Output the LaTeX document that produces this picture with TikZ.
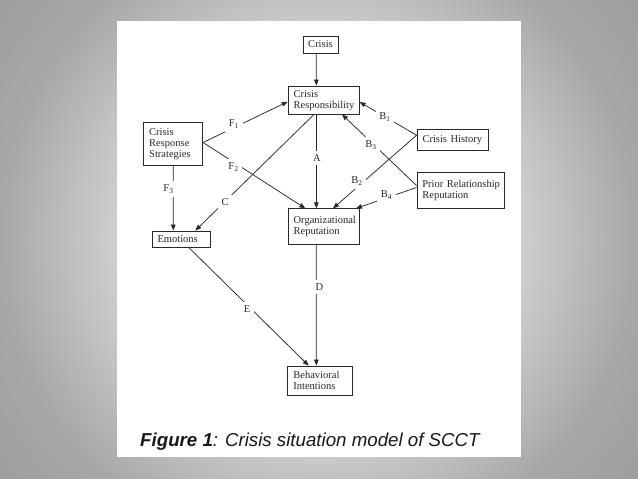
\documentclass[tikz,border=0pt]{standalone}
\usepackage{fontspec}
\setmainfont{Liberation Serif}
\newfontfamily\capfont{Liberation Sans}
\usetikzlibrary{arrows.meta}
\definecolor{ink}{RGB}{40,40,40}
\tikzset{
  box/.style={draw=ink, line width=0.8pt, inner xsep=5.5pt, inner ysep=2pt, align=left,
    text=ink, font=\fontsize{10.5}{11}\selectfont},
  arr/.style={draw=ink, line width=0.75pt, -{Triangle[length=6pt,width=4.6pt]}},
  lbl/.style={fill=white, inner sep=3.5pt, text=ink, font=\fontsize{10.5}{11}\selectfont},
}
\begin{document}
\begin{tikzpicture}[x=1pt,y=-1pt]
\useasboundingbox (0,0) rectangle (638,479);
\begin{scope}
  \clip (0,0) rectangle (638,479);
  \foreach \r in {420,417,...,198} {
    \pgfmathsetmacro\g{(\r>319 ? (168-(\r-319)*10/79) : (207-(\r-202)*39/117))/255}
    \definecolor{tmpg}{gray}{\g}
    \fill[tmpg] (319,239.5) circle (\r pt);
  }
\end{scope}
\fill[white] (117,21) rectangle (521,457);

% boxes
\node[box, align=center, inner xsep=3pt, text width=29pt, minimum height=17pt] (crisis) at (320.5,44.5) {Crisis};
\node[box, text width=60pt, minimum height=28pt] (resp) at (323.65,100) {\rule{0pt}{9pt}Crisis\\\mbox{Responsibility}};
\node[box, text width=48pt, minimum height=43.5pt] (crs) at (173.2,144) {Crisis\\Response\\Strategies};
\node[box, text width=60pt, minimum height=21pt] (hist) at (452.5,140.2) {\mbox{Crisis History}};
\node[box, text width=76pt, minimum height=36pt] (prior) at (460.4,190) {\mbox{Prior Relationship}\\Reputation};
\node[box, text width=60pt, minimum height=36pt] (org) at (323.65,226.8) {\mbox{Organizational}\\Reputation};
\node[box, text width=47pt, minimum height=16pt] (emo) at (181,239) {Emotions};
\node[box, text width=54pt, minimum height=29pt] (beh) at (320.35,380.5) {Behavioral\\Intentions};

% connectors
\draw[arr] ([xshift=-4.2pt]crisis.south) -- ([xshift=-7.3pt]resp.north);
\draw[arr] ([xshift=-7.3pt]resp.south) -- ([xshift=-7.3pt]org.north)
  node[lbl] at (317,158) {A};
\draw[arr] ([xshift=-7.3pt]org.south) -- ([xshift=-4pt]beh.north)
  node[lbl] at (319.5,287) {D};
\draw[arr] ([yshift=1.5pt]crs.east) -- ([yshift=-1.7pt]resp.west)
  node[lbl] at (234,124) {F\textsubscript{1}};
\draw[arr] ([yshift=1.5pt]crs.east) -- ([xshift=-18.35pt]org.north)
  node[lbl] at (233.5,167) {F\textsubscript{2}};
\draw[arr] (crs.south) -- ([xshift=-7.7pt]emo.north)
  node[lbl] at (168.5,189) {F\textsubscript{3}};
\draw[arr] ([xshift=-9.6pt]resp.south) -- ([xshift=14.3pt]emo.north)
  node[lbl] at (225,202) {C};
\draw[arr] ([yshift=5pt]hist.west) -- ([yshift=-2pt]resp.east)
  node[lbl] at (385,117) {B\textsubscript{1}};
\draw[arr] ([yshift=5pt]hist.west) -- ([xshift=9.35pt]org.north)
  node[lbl] at (357,181) {B\textsubscript{2}};
\draw[arr] ([yshift=4.5pt]prior.west) -- ([xshift=18.35pt]resp.south)
  node[lbl] at (371,145) {B\textsubscript{3}};
\draw[arr] ([yshift=2.5pt]prior.west) -- ([xshift=32.35pt]org.north)
  node[lbl] at (386.5,195) {B\textsubscript{4}};
\draw[arr] ([xshift=7.7pt]emo.south) -- ([xshift=-11.65pt]beh.north)
  node[lbl] at (247,309) {E};

% caption
\node[anchor=base west, inner sep=0pt, text=black!90, font=\capfont\fontsize{18.7}{20}\selectfont\itshape] (cap) at (140,446)
  {\bfseries Figure 1\mdseries: Crisis situation model of SCCT};
\end{tikzpicture}
\end{document}
